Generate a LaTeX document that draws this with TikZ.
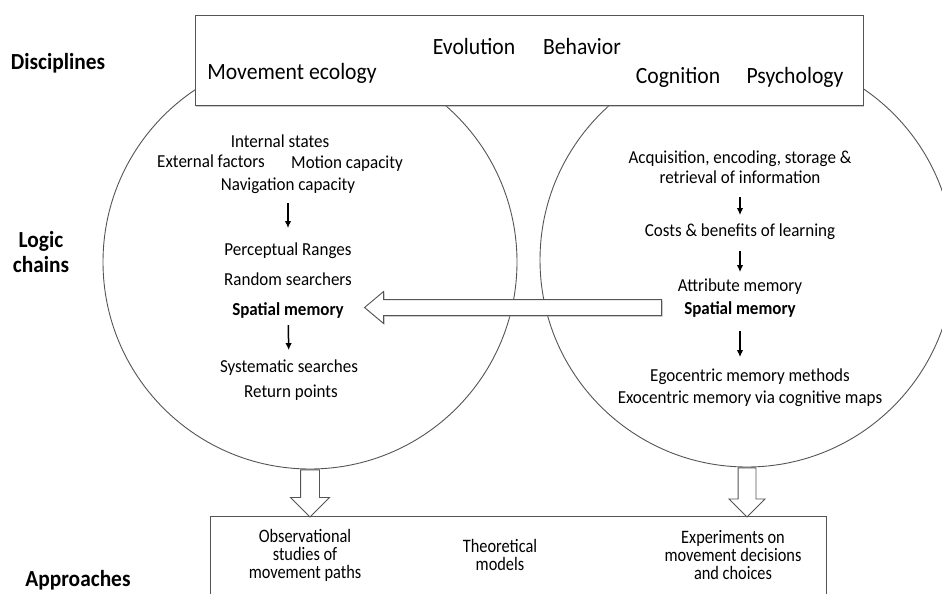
\documentclass[tikz,border=0pt]{standalone}
\usepackage{fontspec}
\setmainfont{Carlito}[FakeStretch=0.93]
\newfontfamily\narrowfont{Carlito}[FakeStretch=0.86]
\usetikzlibrary{arrows.meta,positioning,shapes.arrows,shadows}
\definecolor{edge}{gray}{0.33}
\tikzset{
  ring/.style={
    draw=edge,
    line width=0.9pt,
    circle,
    minimum size=414pt,
    inner sep=0pt
  },
  panel/.style={
    draw=edge,
    line width=0.9pt,
    fill=white,
    inner sep=0pt
  },
  shade/.style={
    drop shadow={shadow xshift=1pt, shadow yshift=-1.5pt, fill=black!40, opacity=0.5}
  },
  rowlabel/.style={
    font=\fontsize{23}{25}\selectfont\bfseries,
    align=center
  },
  discword/.style={
    font=\fontsize{23.3}{28}\selectfont,
    anchor=base,
    inner sep=1pt
  },
  chainitem/.style={
    font=\fontsize{18.3}{22}\selectfont,
    anchor=base,
    inner sep=1pt
  },
  method/.style={
    font=\narrowfont\fontsize{19}{18}\selectfont,
    align=center
  },
  flow/.style={-{Latex[length=7pt,width=6.5pt]}, line width=1.5pt},
  blockarrow/.style={
    single arrow,
    draw=edge,
    fill=white,
    line width=0.9pt,
    inner xsep=0pt,
    anchor=tail
  }
}

\begin{document}
\begin{tikzpicture}[x=1pt,y=-1pt]
  \useasboundingbox (0,0) rectangle (942,594);
  \clip (0,0) rectangle (942,594);

  % the two fields
  \node[ring] (lcirc) at (310,262) {};
  \node[ring] (rcirc) at (747,260) {};

  % disciplines
  \node[panel, shade, anchor=north west, minimum width=668pt, minimum height=90pt] (disc) at (195,15) {};
  \node[discword] (moveco) at (292,80) {Movement ecology};
  \node[discword] (evol) at (474,54.5) {Evolution};
  \node[discword] (behav) at (582,54.5) {Behavior};
  \node[discword] (cogn) at (678,83.5) {Cognition};
  \node[discword] (psych) at (795,83) {Psychology};

  % row labels
  \node[rowlabel] (disclabel) at (58,63) {Disciplines};
  \node[rowlabel] (logiclabel) at (41,252) {Logic\\chains};
  \node[rowlabel] (applabel) at (78,580) {Approaches};

  % movement ecology chain
  \node[chainitem] (intern) at (280,147) {Internal states};
  \node[chainitem] (extern) at (211,167) {External factors};
  \node[chainitem] (motion) at (347,168) {Motion capacity};
  \node[chainitem] (nav) at (288,190) {Navigation capacity};
  \node[chainitem] (percept) at (288,255) {Perceptual Ranges};
  \node[chainitem] (random) at (288,285) {Random searchers};
  \node[chainitem, font=\fontsize{18.3}{22}\selectfont\bfseries] (lspat) at (288,315) {Spatial memory};
  \node[chainitem] (system) at (289,372) {Systematic searches};
  \node[chainitem] (retpts) at (291,397) {Return points};

  % cognition chain
  \node[chainitem] (acq) at (740,163) {Acquisition, encoding, storage \&};
  \node[chainitem] (retr) at (740,183) {retrieval of information};
  \node[chainitem] (costs) at (740,236) {Costs \& benefits of learning};
  \node[chainitem] (attr) at (740,291) {Attribute memory};
  \node[chainitem, font=\fontsize{18.3}{22}\selectfont\bfseries] (rspat) at (740,314) {Spatial memory};
  \node[chainitem] (ego) at (750,381) {Egocentric memory methods};
  \node[chainitem] (exo) at (750,403) {Exocentric memory via cognitive maps};

  \draw[flow, shorten <=9pt, shorten >=13pt] (nav) -- (percept);
  \draw[flow, shorten <=6pt, shorten >=8pt] (lspat) -- (system);
  \draw[flow, shorten <=13pt, shorten >=7pt] (retr) -- (costs);
  \draw[flow, shorten <=11pt, shorten >=5pt] (costs) -- (attr);
  \draw[flow, shorten <=13pt, shorten >=10pt] (rspat.south) -- (rspat.south |- ego.north);

  % approaches
  \node[panel, anchor=north west, minimum width=616pt, minimum height=124pt] (approach) at (210,516) {};
  \node[method] (observ) at (305,555) {Observational\\studies of\\movement paths};
  \node[method] (theory) at (500,555) {Theoretical\\models};
  \node[method] (exper) at (733,555) {Experiments on\\movement decisions\\and choices};

  % block arrows
  \node[blockarrow, shade, rotate=180, inner ysep=7.5pt, minimum width=31pt, minimum height=297pt,
    single arrow head extend=8pt, single arrow tip angle=80] (memarrow) at (662,307.5) {};
  \node[blockarrow, rotate=-90, inner ysep=9pt, minimum width=38pt, minimum height=47pt,
    single arrow head extend=10pt] (obsarrow) at (lcirc.south) {};
  \node[blockarrow, rotate=-90, inner ysep=8.5pt, minimum width=35pt, minimum height=49pt,
    single arrow head extend=9pt] (exparrow) at (rcirc.south) {};
\end{tikzpicture}
\end{document}
